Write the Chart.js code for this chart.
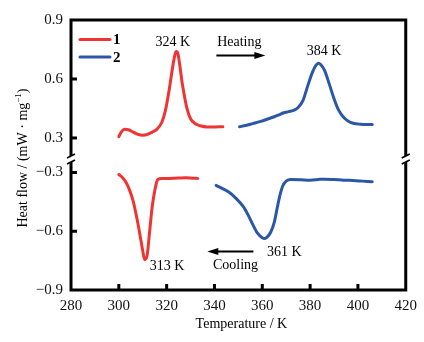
<!DOCTYPE html>
<html><head><meta charset="utf-8">
<script src="https://cdn.jsdelivr.net/npm/chart.js@4/dist/chart.umd.min.js"></script>
<style>html,body{margin:0;padding:0;background:#fff}#wrap{width:424px;height:342px;position:relative}</style>
</head><body><div id="wrap"><canvas id="c"></canvas></div>
<script>
// ---- data ----
const heat1T = [300,301,302.5,304,306,308,310,312,314,316,318,319.5,321,322.5,323.5,324,324.7,325.5,326.5,327.5,328.5,330,332,334,337,340,343.5];
const heat1V = [0.307,0.33,0.344,0.342,0.33,0.318,0.314,0.318,0.33,0.345,0.38,0.44,0.54,0.66,0.725,0.74,0.73,0.67,0.58,0.51,0.45,0.398,0.372,0.362,0.356,0.356,0.357];
const heat2T = [350.5,353,356,359,362,365,367,369,371,373,375,377,379,381,382.5,383.5,384.5,386,388,390,392,394,396,398,401,406];
const heat2V = [0.357,0.363,0.373,0.383,0.395,0.408,0.418,0.428,0.434,0.44,0.455,0.49,0.565,0.635,0.67,0.68,0.672,0.645,0.575,0.5,0.44,0.405,0.385,0.375,0.37,0.368];
const cool1T = [300,301.5,303,304.5,306,307.5,308.8,310,310.8,311.8,312.9,314,315,315.8,316.5,318,321,325,328,331,333];
const cool1V = [-0.31,-0.325,-0.35,-0.39,-0.446,-0.53,-0.615,-0.70,-0.745,-0.725,-0.6,-0.47,-0.395,-0.35,-0.334,-0.331,-0.33,-0.328,-0.327,-0.329,-0.33];
const cool2T = [340.7,343,346,349,352,354,356,358,360,361,362,363.5,365,366.5,367.5,368.5,370,372,376,380,384,386,390,394,398,402,406];
const cool2V = [-0.366,-0.38,-0.40,-0.432,-0.473,-0.515,-0.565,-0.61,-0.633,-0.637,-0.63,-0.605,-0.555,-0.465,-0.41,-0.37,-0.344,-0.336,-0.337,-0.339,-0.335,-0.334,-0.336,-0.339,-0.341,-0.344,-0.347];
const seriesNames = ['1','2'];
const xTicks = [280,300,320,340,360,380,400,420];
const xTickLabels = ['280','300','320','340','360','380','400','420'];
const yHighTicks = [0.3,0.6,0.9];
const yHighTickLabels = ['0.3','0.6','0.9'];
const yLowTicks = [-0.9,-0.6,-0.3];
const yLowTickLabels = ['\u22120.9','\u22120.6','\u22120.3'];

const RED = '#ef3434', BLUE = '#2c57a9';
const FONT = '"Liberation Serif","Times New Roman",serif';

function pts(t, v){ return t.map((x,i)=>({x:x, y:v[i]})); }
function ds(t,v,color,axis){
  return {data:pts(t,v), borderColor:color, backgroundColor:color, borderWidth:3,
    pointRadius:0, cubicInterpolationMode:'monotone', yAxisID:axis, fill:false, borderCapStyle:'round'};
}

const decor = {
  id:'decor',
  afterDraw(chart){
    const ctx = chart.ctx, a = chart.chartArea, sx = chart.scales.x, yh = chart.scales.yHigh, yl = chart.scales.yLow;
    ctx.save();
    // frame
    ctx.strokeStyle = '#000'; ctx.lineWidth = 3; ctx.lineJoin='miter';
    ctx.strokeRect(a.left, a.top, a.right - a.left, a.bottom - a.top);
    // inward ticks
    ctx.lineWidth = 3;
    xTicks.slice(1,-1).forEach(v=>{const x = sx.getPixelForValue(v); ctx.beginPath(); ctx.moveTo(x,a.bottom); ctx.lineTo(x,a.bottom-6); ctx.stroke();});
    [0.3,0.6].forEach(v=>{const y = yh.getPixelForValue(v); ctx.beginPath(); ctx.moveTo(a.left,y); ctx.lineTo(a.left+6,y); ctx.stroke();});
    [-0.6,-0.3].forEach(v=>{const y = yl.getPixelForValue(v); ctx.beginPath(); ctx.moveTo(a.left,y); ctx.lineTo(a.left+6,y); ctx.stroke();});
    // axis breaks
    const b = yh.bottom;
    [a.left, a.right].forEach(ax=>{
      ctx.fillStyle='#fff'; ctx.fillRect(ax-3, b-3, 6, 6);
      ctx.strokeStyle='#000'; ctx.lineWidth=1.6;
      ctx.beginPath(); ctx.moveTo(ax-4,b-1); ctx.lineTo(ax+4,b-5); ctx.stroke();
      ctx.beginPath(); ctx.moveTo(ax-4,b+5); ctx.lineTo(ax+4,b+1); ctx.stroke();
    });
    // legend
    ctx.lineWidth = 3; ctx.lineCap='round';
    [[RED,39.5],[BLUE,57]].forEach((c,i)=>{
      ctx.strokeStyle=c[0]; ctx.beginPath(); ctx.moveTo(a.left+9,c[1]); ctx.lineTo(a.left+39,c[1]); ctx.stroke();
      ctx.fillStyle='#000'; ctx.font='bold 15px '+FONT; ctx.textAlign='left'; ctx.textBaseline='middle';
      ctx.fillText(seriesNames[i], a.left+42, c[1]+1);
    });
    // annotations (anchored in data units)
    ctx.font = '14px '+FONT; ctx.fillStyle='#000'; ctx.textAlign='center'; ctx.textBaseline='middle';
    const txt = (s,T,v,sc)=>ctx.fillText(s, sx.getPixelForValue(T), sc.getPixelForValue(v));
    txt('324 K', 322.6, 0.788, yh);
    txt('384 K', 385.8, 0.742, yh);
    txt('Heating', 350.4, 0.785, yh);
    txt('313 K', 320.2, -0.777, yl);
    txt('361 K', 369.2, -0.706, yl);
    txt('Cooling', 348.8, -0.774, yl);
    // arrows
    const arrow = (T1,T2,v,sc)=>{
      const x1=sx.getPixelForValue(T1), x2=sx.getPixelForValue(T2), y=Math.round(sc.getPixelForValue(v))+0.5;
      const d = Math.sign(x2-x1);
      ctx.strokeStyle='#000'; ctx.fillStyle='#000'; ctx.lineWidth=2; ctx.lineCap='butt';
      ctx.beginPath(); ctx.moveTo(x1,y); ctx.lineTo(x2-d*8,y); ctx.stroke();
      ctx.beginPath(); ctx.moveTo(x2,y); ctx.lineTo(x2-d*11,y-3.5); ctx.lineTo(x2-d*11,y+3.5); ctx.closePath(); ctx.fill();
    };
    arrow(340.8, 361.3, 0.724, yh);
    arrow(356.3, 337.0, -0.702, yl);
    // axis titles
    ctx.fillStyle='#000'; ctx.textBaseline='alphabetic';
    ctx.font='14px '+FONT; ctx.textAlign='center';
    ctx.fillText('Temperature / K', (a.left+a.right)/2 + 3, 328);
    ctx.save();
    ctx.translate(27, 158); ctx.rotate(-Math.PI/2);
    const p1 = 'Heat flow / (mW \u00b7 mg', p2 = '\u22121', p3 = ')';
    ctx.font='14px '+FONT; const w1 = ctx.measureText(p1).width, w3 = ctx.measureText(p3).width;
    ctx.font='9px '+FONT; const w2 = ctx.measureText(p2).width;
    let x0 = -(w1+w2+w3)/2;
    ctx.textAlign='left';
    ctx.font='14px '+FONT; ctx.fillText(p1, x0, 0);
    ctx.font='9px '+FONT; ctx.fillText(p2, x0+w1, -6);
    ctx.font='14px '+FONT; ctx.fillText(p3, x0+w1+w2, 0);
    ctx.restore();
    ctx.restore();
  }
};

new Chart(document.getElementById('c'), {
  type:'line',
  data:{ datasets:[
    ds(heat1T,heat1V,RED,'yHigh'),
    ds(heat2T,heat2V,BLUE,'yHigh'),
    ds(cool1T,cool1V,RED,'yLow'),
    ds(cool2T,cool2V,BLUE,'yLow')
  ]},
  options:{
    responsive:true, maintainAspectRatio:false, animation:false,
    layout:{padding:{left:0,right:17,top:20,bottom:0}},
    plugins:{legend:{display:false}, tooltip:{enabled:false}},
    scales:{
      x:{type:'linear', min:280, max:420,
        afterBuildTicks:s=>{s.ticks = xTicks.map(v=>({value:v}));},
        ticks:{padding:7, color:'#111', font:{family:FONT,size:15}, maxRotation:0,
          callback:(v)=>{const i = xTicks.indexOf(v); return i>=0 ? xTickLabels[i] : '';}},
        grid:{display:false, drawTicks:false}, border:{display:false},
        afterFit:s=>{s.height = 52;}},
      yLow:{type:'linear', position:'left', stack:'v', stackWeight:131, min:-0.9, max:-0.231,
        afterBuildTicks:s=>{s.ticks = yLowTicks.map(v=>({value:v}));},
        ticks:{padding:8, color:'#111', font:{family:FONT,size:15},
          callback:(v)=>{const i = yLowTicks.findIndex(t=>Math.abs(t-v)<1e-6); return i>=0 ? yLowTickLabels[i] : '';}},
        grid:{display:false, drawTicks:false}, border:{display:false},
        afterFit:s=>{s.width = 71;}},
      yHigh:{type:'linear', position:'left', stack:'v', stackWeight:139, min:0.193, max:0.9,
        afterBuildTicks:s=>{s.ticks = yHighTicks.map(v=>({value:v}));},
        ticks:{padding:8, color:'#111', font:{family:FONT,size:15},
          callback:(v)=>{const i = yHighTicks.findIndex(t=>Math.abs(t-v)<1e-6); return i>=0 ? yHighTickLabels[i] : '';}},
        grid:{display:false, drawTicks:false}, border:{display:false},
        afterFit:s=>{s.width = 71;}}
    }
  },
  plugins:[decor]
});
</script></body></html>
